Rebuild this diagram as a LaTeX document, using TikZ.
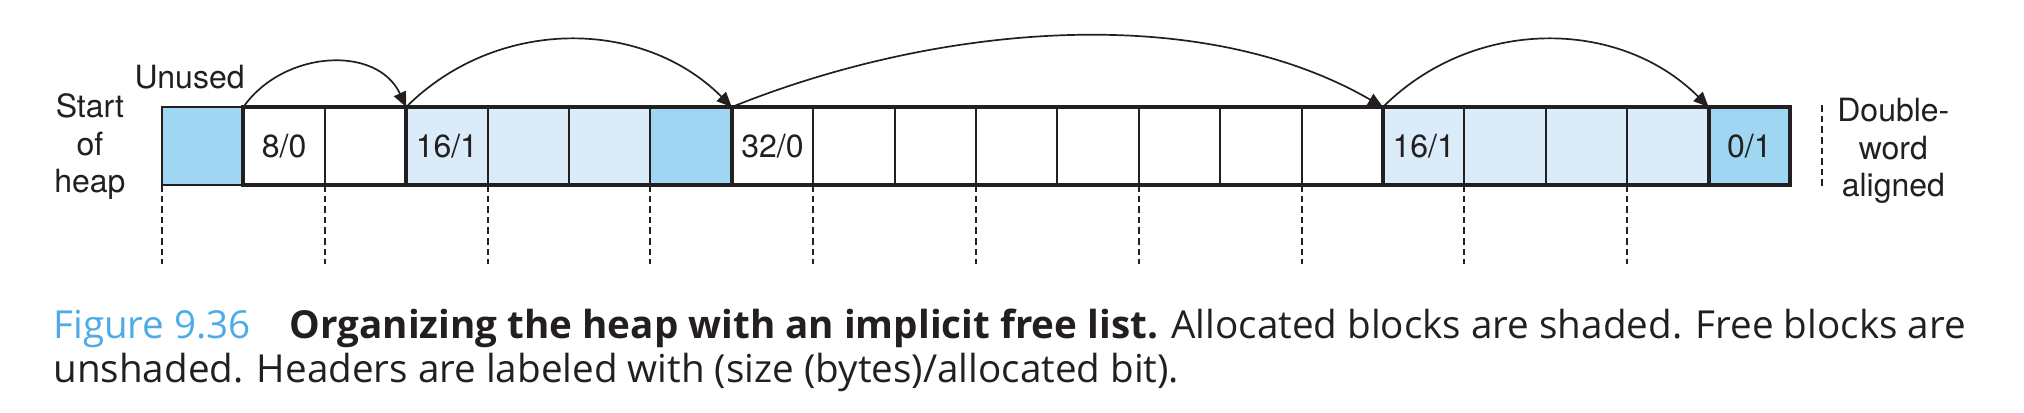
\documentclass[tikz,border=0pt]{standalone}
\usepackage{fontspec}
\setmainfont{TeX Gyre Heros}
\newfontfamily\capfont{Open Sans}
\usetikzlibrary{arrows.meta}

\definecolor{alloc}{RGB}{159,215,243}
\definecolor{payload}{RGB}{218,236,250}
\definecolor{ink}{RGB}{35,31,32}
\definecolor{figblue}{RGB}{77,171,232}

\tikzset{
  word/.style={draw=ink, fill=white, line width=1pt, minimum width=40.7pt, minimum height=39pt,
    inner sep=0pt, outer sep=0pt, text=ink, font=\fontsize{16}{18.75}\selectfont},
  used/.style={word, fill=payload},
  pad/.style={word, fill=alloc},
  blk/.style={draw=ink, line width=2pt},
  nxt/.style={draw=ink, line width=0.85pt, -{Triangle[length=7.5pt,width=6.5pt]}},
  guide/.style={draw=ink, line width=1pt, dash pattern=on 3.3pt off 2pt},
  lbl/.style={align=center, inner sep=0pt, text=ink, font=\fontsize{16}{18.75}\selectfont},
  captext/.style={anchor=base west, inner sep=0pt, text=ink, font=\capfont\fontsize{19.3}{19.3}\selectfont}
}

\begin{document}
\begin{tikzpicture}[x=40.7pt,y=40.7pt]
        \useasboundingbox (-1.990,-2.789) rectangle (22.875,2.273);

        \node[pad] (w0) at (0.5, 0.479) {};
        \node[word] (w1) at (1.5, 0.479) {8/0};
        \node[word] (w2) at (2.5, 0.479) {};
        \node[used] (w3) at (3.5, 0.479) {16/1};
        \node[used] (w4) at (4.5, 0.479) {};
        \node[used] (w5) at (5.5, 0.479) {};
        \node[pad] (w6) at (6.5, 0.479) {};
        \node[word] (w7) at (7.5, 0.479) {32/0};
        \node[word] (w8) at (8.5, 0.479) {};
        \node[word] (w9) at (9.5, 0.479) {};
        \node[word] (w10) at (10.5, 0.479) {};
        \node[word] (w11) at (11.5, 0.479) {};
        \node[word] (w12) at (12.5, 0.479) {};
        \node[word] (w13) at (13.5, 0.479) {};
        \node[word] (w14) at (14.5, 0.479) {};
        \node[used] (w15) at (15.5, 0.479) {16/1};
        \node[used] (w16) at (16.5, 0.479) {};
        \node[used] (w17) at (17.5, 0.479) {};
        \node[used] (w18) at (18.5, 0.479) {};
        \node[pad] (w19) at (19.5, 0.479) {0/1};

        \draw[blk] (w1.north west) rectangle (w2.south east);
        \draw[blk] (w3.north west) rectangle (w6.south east);
        \draw[blk] (w7.north west) rectangle (w14.south east);
        \draw[blk] (w15.north west) rectangle (w18.south east);
        \draw[blk] (w19.north west) rectangle (w19.south east);

        \draw[nxt] (w1.north west) to[out=55, in=115, looseness=1.09] (w3.north west);
        \draw[nxt] (w3.north west) to[out=45, in=135] (w7.north west);
        \draw[nxt] (w7.north west) to[out=22, in=150, looseness=0.85] (w15.north west);
        \draw[nxt] (w15.north west) to[out=45, in=135] (w19.north west);

        \draw[guide] (w0.south west) -- ++(0, -0.97);
        \draw[guide] (w2.south west) -- ++(0, -0.97);
        \draw[guide] (w4.south west) -- ++(0, -0.97);
        \draw[guide] (w6.south west) -- ++(0, -0.97);
        \draw[guide] (w8.south west) -- ++(0, -0.97);
        \draw[guide] (w10.south west) -- ++(0, -0.97);
        \draw[guide] (w12.south west) -- ++(0, -0.97);
        \draw[guide] (w14.south west) -- ++(0, -0.97);
        \draw[guide] (w16.south west) -- ++(0, -0.97);
        \draw[guide] (w18.south west) -- ++(0, -0.97);

        \coordinate (dw) at (20.39, 0.98);
        \draw[guide] (dw) -- ++(0, -1.0);

        \node[lbl, anchor=base east] (unused) at (1.02, 1.19) {Unused};
        \node[lbl] (start) at (-0.885, 0.467) {Start\\of\\heap};
        \node[lbl] (dbl) at (21.27, 0.42) {Double-\\word\\aligned};

        \node[captext] (cap1) at (-1.339, -1.880) {\textcolor{figblue}{Figure 9.36}\quad\textbf{Organizing the heap with an implicit free list.} Allocated blocks are shaded. Free blocks are};
        \node[captext] (cap2) at (-1.339, -2.42) {unshaded. Headers are labeled with (size (bytes)/allocated bit).};
      \end{tikzpicture}
\end{document}
